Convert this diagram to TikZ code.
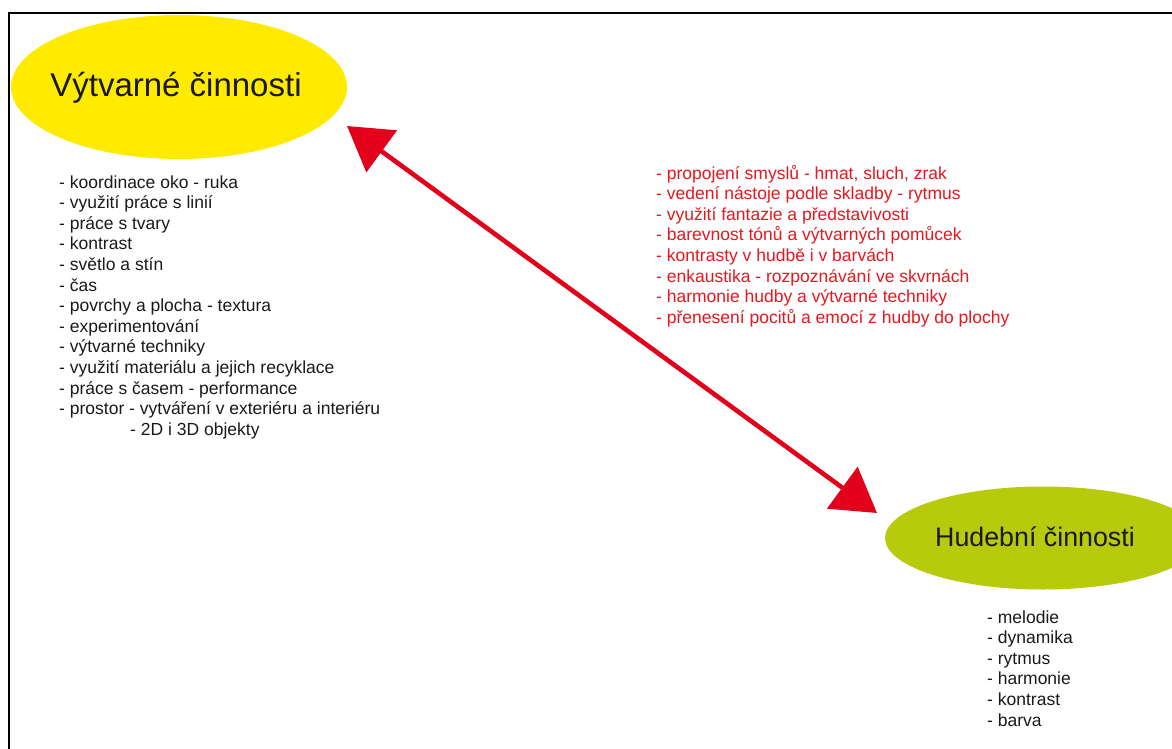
\documentclass[tikz,border=0pt]{standalone}
\usepackage{fontspec}
\setmainfont{Liberation Sans}
\usetikzlibrary{shapes.geometric,arrows.meta}
\definecolor{vyellow}{RGB}{255,235,0}
\definecolor{hgreen}{RGB}{183,202,12}
\definecolor{redtxt}{RGB}{232,22,30}
\definecolor{redarrow}{RGB}{226,0,26}
\definecolor{darktxt}{RGB}{25,25,25}
\tikzset{
  blob/.style={ellipse, inner sep=0pt, text=darktxt},
  listtxt/.style={inner sep=0pt, anchor=base west, font=\fontsize{17.5}{20.6}\selectfont},
  framerule/.style={line width=2.2pt, black},
  linkarrow/.style={line width=4.6pt, redarrow, {Triangle[length=43pt,width=51pt]}-{Triangle[length=43pt,width=51pt]}}
}
\begin{document}
\begin{tikzpicture}[x=1pt,y=-1pt]
\useasboundingbox (0,0) rectangle (1172,749);
% frame
\coordinate (ftr) at (1172,13);
\coordinate (ftl) at (9,13);
\coordinate (fbl) at (9,749);
\draw[framerule] (ftr) -- (ftl) -- (fbl);
% ellipses
\node[blob, fill=vyellow, minimum width=336pt, minimum height=144pt] (vyt) at (179,87) {};
\node[text=darktxt, inner sep=0pt, font=\fontsize{33}{36}\selectfont] (vytl) at (176,88) {Výtvarné činnosti};
\node[blob, fill=hgreen, minimum width=316pt, minimum height=103pt] (hud) at (1043,538) {};
\node[text=darktxt, inner sep=0pt, font=\fontsize{26.8}{30}\selectfont] (hudl) at (1035,537) {Hudební činnosti};
% lists
\node[listtxt, text=darktxt] (vlist) at (59,188) {\begin{tabular}[t]{@{}l@{}}
- koordinace oko - ruka\\
- využití práce s linií\\
- práce s tvary\\
- kontrast\\
- světlo a stín\\
- čas\\
- povrchy a plocha - textura\\
- experimentování\\
- výtvarné techniky\\
- využití materiálu a jejich recyklace\\
- práce s časem - performance\\
- prostor - vytváření v exteriéru a interiéru\\
\hspace*{71pt}- 2D i 3D objekty
\end{tabular}};
\node[listtxt, text=redtxt] (rlist) at (656,179) {\begin{tabular}[t]{@{}l@{}}
- propojení smyslů - hmat, sluch, zrak\\
- vedení nástoje podle skladby - rytmus\\
- využití fantazie a představivosti\\
- barevnost tónů a výtvarných pomůcek\\
- kontrasty v hudbě i v barvách\\
- enkaustika - rozpoznávání ve skvrnách\\
- harmonie hudby a výtvarné techniky\\
- přenesení pocitů a emocí z hudby do plochy
\end{tabular}};
\node[listtxt, text=darktxt] (hlist) at (987,623) {\begin{tabular}[t]{@{}l@{}}
- melodie\\
- dynamika\\
- rytmus\\
- harmonie\\
- kontrast\\
- barva
\end{tabular}};
% arrow
\coordinate (atop) at (347,126);
\coordinate (abot) at (877,513);
\draw[linkarrow] (atop) -- (abot);
\end{tikzpicture}
\end{document}
